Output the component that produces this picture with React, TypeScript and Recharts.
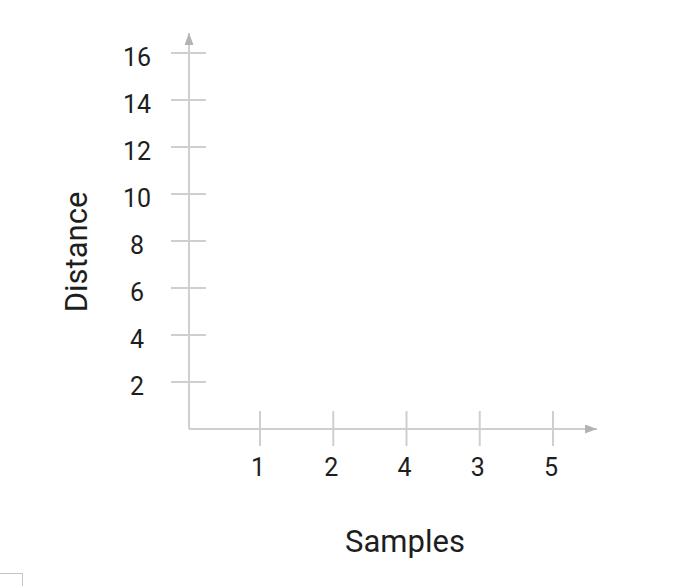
import { LineChart, XAxis, YAxis, Label } from 'recharts';

// categories on the x axis, in the order they appear
const sampleLabels = ['1', '2', '4', '3', '5'];
// distance ticks on the y axis
const distanceTicks = [2, 4, 6, 8, 10, 12, 14, 16];
const distanceMax = 16.85;

const chartData = sampleLabels.map(s => ({ sample: s }));

const AXIS = '#cfcfcf';
const ARROW = '#b3b3b3';
const INK = '#1e1e1e';
const FONT = 'Roboto, "Noto Sans", sans-serif';

function YTick(props: any) {
  const { x, y, payload } = props;
  return (
    <g>
      <line x1={x - 18} x2={x + 17} y1={y} y2={y} stroke={AXIS} strokeWidth={2} />
      <text x={x - 52} y={y + 4} dy="0.355em" textAnchor="middle" fill={INK} fontSize={25} fontFamily={FONT}>
        {payload.value}
      </text>
    </g>
  );
}

function XTick(props: any) {
  const { x, y, payload } = props;
  return (
    <g>
      <line x1={x} x2={x} y1={y - 18} y2={y + 17} stroke={AXIS} strokeWidth={2} />
      <text x={x - 2} y={y + 38} dy="0.355em" textAnchor="middle" fill={INK} fontSize={25} fontFamily={FONT}>
        {payload.value}
      </text>
    </g>
  );
}

export default function App() {
  return (
    <div style={{ position: 'absolute', left: 0, top: 0, width: 687, height: 586, background: '#fff' }}>
      <LineChart
        width={687}
        height={586}
        data={chartData}
        margin={{ top: 33, right: 90, bottom: 0, left: 0 }}
      >
        <defs>
          <marker
            id="axisArrow"
            viewBox="0 0 12 9"
            refX={12}
            refY={4.5}
            markerWidth={12}
            markerHeight={9}
            markerUnits="userSpaceOnUse"
            orient="auto-start-reverse"
          >
            <path d="M0,0 L12,4.5 L0,9 z" fill={ARROW} />
          </marker>
        </defs>
        <XAxis
          dataKey="sample"
          type="category"
          scale="point"
          height={157}
          padding={{ left: 71, right: 44 }}
          axisLine={{ stroke: AXIS, strokeWidth: 2, markerEnd: 'url(#axisArrow)' }}
          tickLine={false}
          tickSize={0}
          tickMargin={0}
          tick={<XTick />}
          interval={0}
        >
          <Label
            content={() => (
              <text x={405} y={552} textAnchor="middle" fill={INK} fontSize={31} fontFamily={FONT}>
                Samples
              </text>
            )}
          />
        </XAxis>
        <YAxis
          type="number"
          width={189}
          domain={[0, distanceMax]}
          allowDataOverflow
          ticks={distanceTicks}
          axisLine={{ stroke: AXIS, strokeWidth: 2, markerStart: 'url(#axisArrow)' }}
          tickLine={false}
          tickSize={0}
          tickMargin={0}
          tick={<YTick />}
          interval={0}
        >
          <Label
            content={() => (
              <text
                x={87}
                y={252}
                transform="rotate(-90 87 252)"
                textAnchor="middle"
                fill={INK}
                fontSize={31}
                fontFamily={FONT}
              >
                Distance
              </text>
            )}
          />
        </YAxis>
      </LineChart>
      <div
        style={{
          position: 'absolute',
          left: -1,
          top: 573,
          width: 24,
          height: 20,
          border: '1px solid #c4c4c4',
          boxSizing: 'border-box',
        }}
      />
    </div>
  );
}
